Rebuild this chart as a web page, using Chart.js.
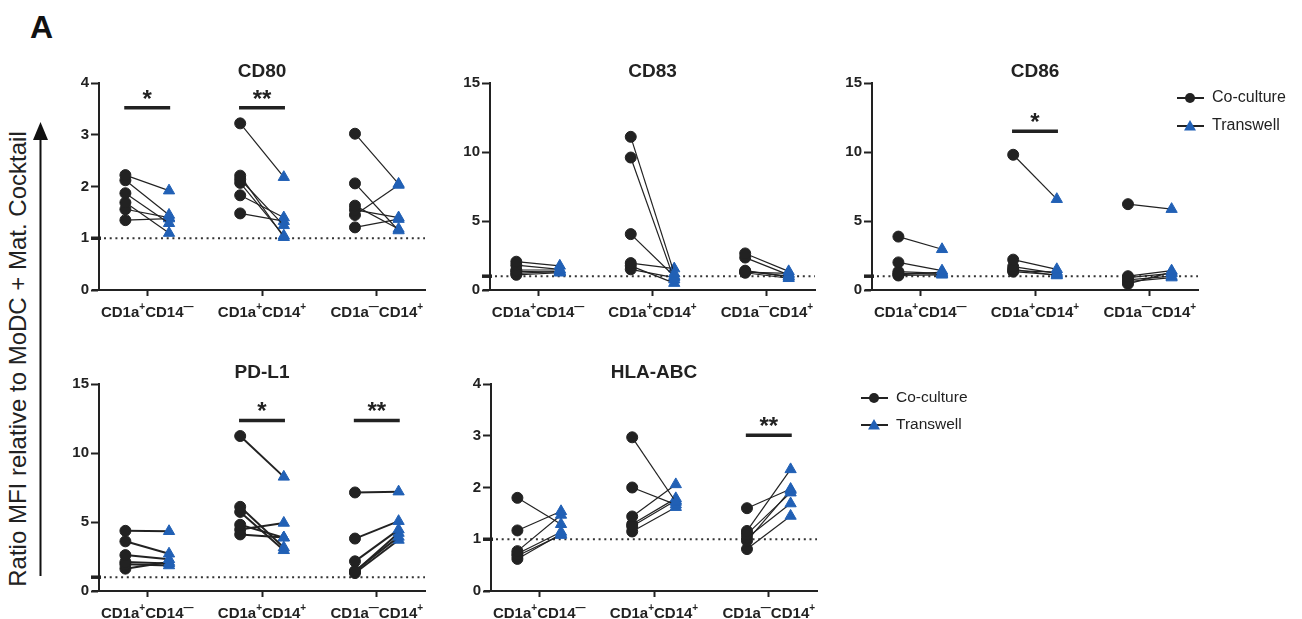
<!DOCTYPE html>
<html><head><meta charset="utf-8">
<script src="https://cdn.jsdelivr.net/npm/chart.js@4.4.1/dist/chart.umd.min.js"></script>
<style>
html,body{margin:0;padding:0;background:#fff;width:1302px;height:619px;overflow:hidden;position:relative;font-family:"Liberation Sans",Arial,sans-serif;}
canvas{position:absolute;}
#panelA{position:absolute;left:30px;top:9px;font-weight:bold;font-size:32px;color:#111;}
#ytitle{position:absolute;left:18px;top:359px;transform:translate(-50%,-50%) rotate(-90deg);white-space:nowrap;font-size:24px;color:#222;}
#arrow{position:absolute;left:0;top:0;}
</style></head>
<body>
<div id="panelA">A</div>
<div id="ytitle">Ratio MFI relative to MoDC + Mat. Cocktail</div>
<svg id="arrow" width="60" height="619"><line x1="40.5" y1="576" x2="40.5" y2="136" stroke="#111" stroke-width="2"/><polygon points="33,140 48,140 40.5,122" fill="#111"/></svg>
<canvas id="cCD80"></canvas>
<canvas id="cCD83"></canvas>
<canvas id="cCD86"></canvas>
<canvas id="cPDL1"></canvas>
<canvas id="cHLA"></canvas>
<script>
// ---- data ----
const categories = ['CD1a\u207ACD14\u207B', 'CD1a\u207ACD14\u207A', 'CD1a\u207BCD14\u207A'];
const seriesNames = ['Co-culture', 'Transwell'];

const cd80Co = [[2.22, 2.12, 1.87, 1.69, 1.56, 1.35], [3.22, 2.21, 2.14, 2.07, 1.83, 1.48], [3.02, 2.06, 1.63, 1.55, 1.45, 1.21]];
const cd80Tw = [[1.92, 1.45, 1.29, 1.10, 1.40, 1.38], [2.18, 1.02, 1.25, 1.05, 1.40, 1.33], [2.05, 1.15, 1.18, 1.40, 2.03, 1.37]];
const cd80Sig = [{group: 1, label: '*', y: 3.52}, {group: 2, label: '**', y: 3.52}];

const cd83Co = [[2.05, 1.80, 1.45, 1.35, 1.20, 1.10], [11.1, 9.6, 4.05, 1.95, 1.75, 1.50], [2.65, 2.35, 1.40, 1.30, 1.25, 1.35]];
const cd83Tw = [[1.75, 1.50, 1.45, 1.30, 1.35, 1.25], [1.20, 0.75, 1.00, 1.55, 0.50, 0.90], [1.35, 1.10, 0.95, 1.20, 0.85, 1.00]];
const cd83Sig = [];

const cd86Co = [[3.87, 2.00, 1.33, 1.20, 1.05, 1.10], [9.8, 2.20, 1.70, 1.50, 1.33, 1.40], [6.22, 1.00, 0.90, 0.73, 0.60, 0.44]];
const cd86Tw = [[2.95, 1.40, 1.20, 1.15, 1.10, 1.30], [6.58, 1.50, 1.20, 1.05, 1.10, 1.30], [5.86, 1.40, 1.20, 1.00, 0.90, 1.30]];
const cd86Sig = [{group: 2, label: '*', y: 11.5}];

const pdl1Co = [[4.36, 3.60, 2.60, 2.10, 1.93, 1.62], [11.23, 6.10, 5.73, 4.80, 4.45, 4.10], [7.14, 3.80, 2.15, 1.45, 1.30, 1.40]];
const pdl1Tw = [[4.33, 2.70, 2.30, 2.00, 1.85, 2.10], [8.27, 3.15, 2.95, 3.87, 4.93, 3.87], [7.20, 5.06, 4.45, 3.92, 3.70, 4.20]];
const pdl1Sig = [{group: 2, label: '*', y: 12.36}, {group: 3, label: '**', y: 12.36}];

const hlaCo = [[1.80, 1.17, 0.77, 0.72, 0.68, 0.62], [2.97, 2.00, 1.44, 1.29, 1.25, 1.15], [1.60, 1.16, 1.10, 1.03, 0.97, 0.81]];
const hlaTw = [[1.29, 1.54, 1.47, 1.14, 1.08, 1.10], [1.72, 1.67, 2.06, 1.79, 1.75, 1.62], [1.97, 2.35, 1.90, 1.69, 1.95, 1.45]];
const hlaSig = [{group: 3, label: '**', y: 3.01}];

// ---- styling ----
const FONT = '"Liberation Sans", Arial, sans-serif';
const DARK = '#222222';
const BLUE = '#2160b5';
const OFF = 0.19;
const YAXIS_W = 49, TOP_PAD = 45, XAXIS_H = 40;

// split a label into base / superscript runs
function labelRuns(label) {
  const runs = [];
  for (const ch of label) {
    let sup = null;
    if (ch === '\u207A') sup = '+';
    else if (ch === '\u207B') sup = '\u2014';
    const isSup = sup !== null;
    const txt = isSup ? sup : ch;
    if (runs.length && runs[runs.length - 1].sup === isSup) runs[runs.length - 1].t += txt;
    else runs.push({t: txt, sup: isSup});
  }
  return runs;
}

const decor = {
  id: 'decor',
  beforeDatasetsDraw(chart, args, o) {
    const {ctx, chartArea: a, scales: {x, y}} = chart;
    const y1 = y.getPixelForValue(1);
    ctx.save();
    ctx.strokeStyle = '#333';
    ctx.lineWidth = 2;
    ctx.setLineDash([2, 3.7]);
    ctx.beginPath();
    ctx.moveTo(a.left + 5, y1);
    ctx.lineTo(a.right, y1);
    ctx.stroke();
    ctx.restore();
  },
  afterDraw(chart, args, o) {
    const {ctx, chartArea: a, scales: {x, y}} = chart;
    ctx.save();
    // x axis stub left of y axis
    ctx.strokeStyle = DARK; ctx.lineWidth = 2;
    ctx.beginPath(); ctx.moveTo(a.left - 7, a.bottom); ctx.lineTo(a.left, a.bottom); ctx.stroke();
    // thick tick at y = 1
    const y1 = y.getPixelForValue(1);
    ctx.lineWidth = 3.5;
    ctx.beginPath(); ctx.moveTo(a.left - 8, y1); ctx.lineTo(a.left + 2, y1); ctx.stroke();
    // category labels with superscripts
    ctx.fillStyle = DARK;
    ctx.textBaseline = 'alphabetic'; ctx.textAlign = 'left';
    const baseFont = 'bold 15px ' + FONT, supFont = 'bold 10px ' + FONT;
    categories.forEach((lab, i) => {
      const runs = labelRuns(lab);
      let w = 0;
      runs.forEach(r => { ctx.font = r.sup ? supFont : baseFont; r.w = ctx.measureText(r.t).width; w += r.w; });
      let cx = x.getPixelForValue(i + 1) - w / 2;
      const by = a.bottom + 27;
      runs.forEach(r => {
        ctx.font = r.sup ? supFont : baseFont;
        ctx.fillText(r.t, cx, r.sup ? by - 7 : by);
        cx += r.w;
      });
    });
    // title
    ctx.fillStyle = DARK;
    ctx.font = 'bold 19px ' + FONT;
    ctx.textAlign = 'center'; ctx.textBaseline = 'alphabetic';
    ctx.fillText(o.title, (a.left + a.right) / 2, a.top - 6);
    // significance
    (o.sig || []).forEach(s => {
      const by = y.getPixelForValue(s.y);
      const x0 = x.getPixelForValue(s.group - 0.2), x1 = x.getPixelForValue(s.group + 0.2);
      ctx.lineWidth = 3.5; ctx.strokeStyle = DARK;
      ctx.beginPath(); ctx.moveTo(x0, by); ctx.lineTo(x1, by); ctx.stroke();
      ctx.font = 'bold 24px ' + FONT;
      ctx.fillText(s.label, (x0 + x1) / 2, by - 1);
    });
    // legend
    if (o.legend) {
      const cl = chart.canvas.offsetLeft, ct = chart.canvas.offsetTop;
      const lx = o.legend.x - cl, ly = o.legend.y - ct;
      seriesNames.forEach((name, i) => {
        const yy = ly + i * o.legend.gap;
        ctx.strokeStyle = DARK; ctx.lineWidth = 2;
        ctx.beginPath(); ctx.moveTo(lx, yy); ctx.lineTo(lx + 27, yy); ctx.stroke();
        if (i === 0) {
          ctx.fillStyle = DARK;
          ctx.beginPath(); ctx.arc(lx + 13, yy, 5, 0, Math.PI * 2); ctx.fill();
        } else {
          ctx.fillStyle = BLUE;
          ctx.beginPath(); ctx.moveTo(lx + 13, yy - 6); ctx.lineTo(lx + 19, yy + 4.5); ctx.lineTo(lx + 7, yy + 4.5); ctx.closePath(); ctx.fill();
        }
        ctx.fillStyle = DARK;
        ctx.font = o.legend.size + 'px ' + FONT;
        ctx.textAlign = 'left'; ctx.textBaseline = 'middle';
        ctx.fillText(name, lx + 35, yy);
      });
    }
    ctx.restore();
  }
};

function makePanel(id, title, co, tw, sig, ymax, ystep, plot, lw, padRight, legend) {
  const [l, t, r, b] = plot;
  const left = l - YAXIS_W, top = t - TOP_PAD;
  const w = r - left + padRight, h = b - top + XAXIS_H;
  const cv = document.getElementById(id);
  cv.style.left = left + 'px'; cv.style.top = top + 'px';
  cv.width = w; cv.height = h; cv.style.width = w + 'px'; cv.style.height = h + 'px';
  const datasets = [];
  co.forEach((grp, g) => grp.forEach((v, i) => {
    datasets.push({
      data: [{x: g + 1 - OFF, y: v}, {x: g + 1 + OFF, y: tw[g][i]}],
      showLine: true,
      borderColor: DARK,
      borderWidth: lw,
      pointStyle: ['circle', 'triangle'],
      pointRadius: [5.5, 6.5],
      pointBackgroundColor: [DARK, BLUE],
      pointBorderColor: [DARK, BLUE],
      pointBorderWidth: 1
    });
  }));
  new Chart(cv, {
    type: 'scatter',
    data: {datasets},
    plugins: [decor],
    options: {
      responsive: false, animation: false, devicePixelRatio: 1,
      layout: {padding: {top: TOP_PAD, left: 0, right: padRight, bottom: 0}},
      plugins: {legend: {display: false}, tooltip: {enabled: false}, title: {display: false},
        decor: {title, sig, legend}},
      scales: {
        x: {
          type: 'linear', min: 0.58, max: 3.42,
          afterFit: s => { s.height = XAXIS_H; },
          afterBuildTicks: s => { s.ticks = [1, 2, 3].map(v => ({value: v})); },
          grid: {drawOnChartArea: false, tickLength: 6, tickWidth: 2, tickColor: DARK},
          border: {color: DARK, width: 2},
          ticks: {display: false, autoSkip: false, maxRotation: 0,
            callback: v => categories[Math.round(v) - 1]}
        },
        y: {
          min: 0, max: ymax,
          afterFit: s => { s.width = YAXIS_W; },
          grid: {drawOnChartArea: false, tickLength: 8, tickWidth: 2, tickColor: DARK},
          border: {color: DARK, width: 2},
          ticks: {stepSize: ystep, padding: 2, color: DARK, font: {family: FONT, weight: 'bold', size: 15}}
        }
      }
    }
  });
}

makePanel('cCD80', 'CD80', cd80Co, cd80Tw, cd80Sig, 4, 1, [99, 83, 425, 290], 1.2, 10, null);
makePanel('cCD83', 'CD83', cd83Co, cd83Tw, cd83Sig, 15, 5, [490, 83, 815, 290], 1.2, 10, null);
makePanel('cCD86', 'CD86', cd86Co, cd86Tw, cd86Sig, 15, 5, [872, 83, 1198, 290], 1.2, 104, {x: 1177, y: 98, gap: 28, size: 16});
makePanel('cPDL1', 'PD-L1', pdl1Co, pdl1Tw, pdl1Sig, 15, 5, [99, 384, 425, 591], 2, 10, null);
makePanel('cHLA', 'HLA-ABC', hlaCo, hlaTw, hlaSig, 4, 1, [491, 384, 817, 591], 1.2, 170, {x: 861, y: 398, gap: 27, size: 15.5});
</script>
</body></html>
